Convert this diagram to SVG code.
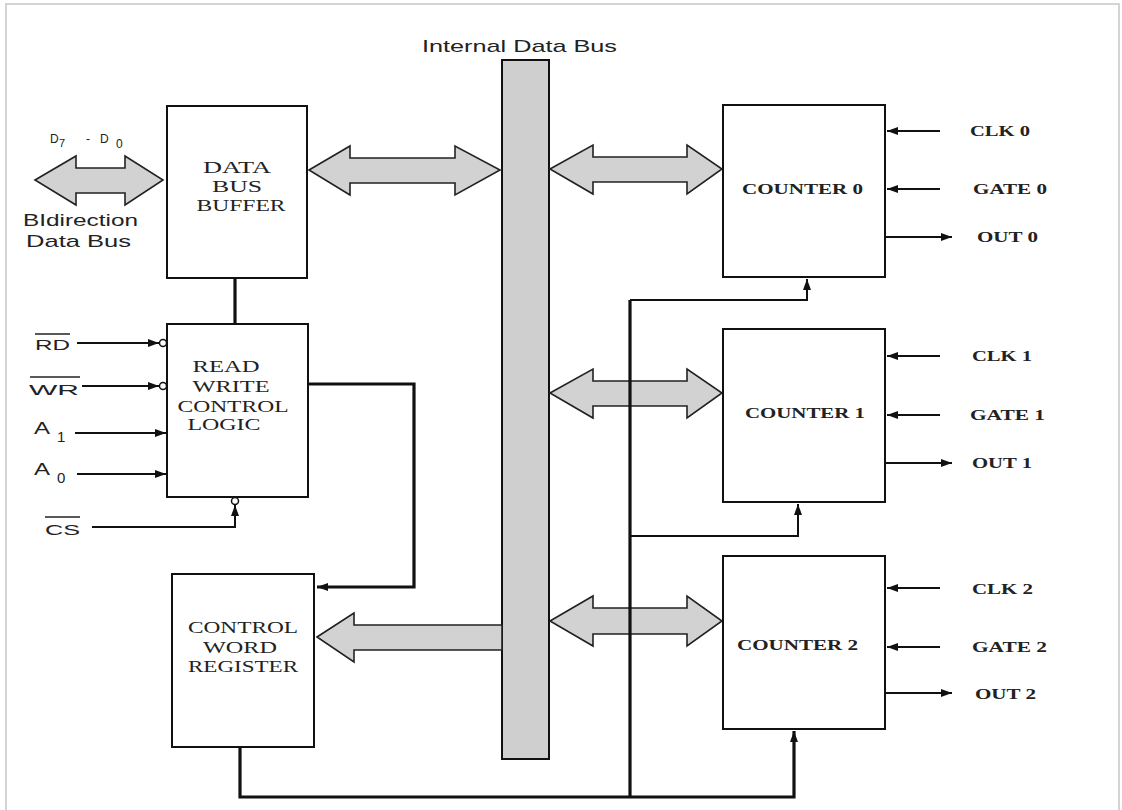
<svg xmlns="http://www.w3.org/2000/svg" width="1122" height="810" viewBox="0 0 1122 810">
  <style>
    .box { fill: #ffffff; stroke: #111111; stroke-width: 2; }
    .bus { fill: #cfcfcf; stroke: #111111; stroke-width: 2; }
    .big { fill: #d2d2d2; stroke: #222222; stroke-width: 1.6; stroke-linejoin: miter; }
    .wire { fill: none; stroke: #111111; stroke-width: 2; }
    .thick { fill: none; stroke: #111111; stroke-width: 3.2; }
    .bubble { fill: #ffffff; stroke: #111111; stroke-width: 1.5; }
    .serif { font-family: "Liberation Serif", "Times New Roman", serif; font-size: 16px; fill: #222222; text-anchor: middle; }
    .serifb { font-family: "Liberation Serif", "Times New Roman", serif; font-size: 15px; font-weight: bold; fill: #222222; }
    .sans { font-family: "Liberation Sans", Arial, sans-serif; fill: #222222; }
  </style>
  <defs>
    <marker id="tip" viewBox="0 0 11 8" refX="11" refY="4" markerWidth="11" markerHeight="8" markerUnits="userSpaceOnUse" orient="auto">
      <path d="M0,0 L11,4 L0,8 Z" fill="#111111"/>
    </marker>
  </defs>

  <!-- page frame -->
  <rect x="6" y="4" width="1113" height="830" fill="none" stroke="#d4d4d4" stroke-width="2"/>

  <!-- internal data bus -->
  <g id="internal-bus">
    <text class="sans" x="422" y="52" font-size="17" textLength="195" lengthAdjust="spacingAndGlyphs">Internal Data Bus</text>
    <rect class="bus" x="502" y="60" width="47" height="699"/>
  </g>

  <!-- wide bus arrows -->
  <g id="bus-arrows">
    <polygon class="big" points="35,180 76,156 76,168 125,168 125,156 163,180 125,205 125,193 76,193 76,205"/>
    <polygon class="big" points="309,170 350,146 350,158 455,158 455,146 500,170 455,195 455,183 350,183 350,195"/>
    <polygon class="big" points="550,169 593,145 593,157 687,157 687,145 722,169 687,194 687,182 593,182 593,194"/>
    <polygon class="big" points="550,393 593,369 593,381 687,381 687,369 722,393 687,418 687,406 593,406 593,418"/>
    <polygon class="big" points="550,621 593,596 593,608 687,608 687,596 722,621 687,646 687,634 593,634 593,646"/>
    <polygon class="big" points="317,637 354,613 354,625 502,625 502,650 354,650 354,662"/>
  </g>

  <!-- left side bus label -->
  <g id="bidir-label">
    <text class="sans" x="50" y="143" font-size="12">D</text>
    <text class="sans" x="59" y="147" font-size="11">7</text>
    <text class="sans" x="86" y="143" font-size="12">-</text>
    <text class="sans" x="100" y="143" font-size="12">D</text>
    <text class="sans" x="116" y="148" font-size="12">0</text>
    <text class="sans" x="23" y="226" font-size="17" textLength="115" lengthAdjust="spacingAndGlyphs">BIdirection</text>
    <text class="sans" x="26" y="247" font-size="17" textLength="105" lengthAdjust="spacingAndGlyphs">Data Bus</text>
  </g>

  <!-- data bus buffer -->
  <g id="data-bus-buffer">
    <rect class="box" x="167" y="106" width="140" height="172"/>
    <text class="serif" x="237" y="173" textLength="68" lengthAdjust="spacingAndGlyphs">DATA</text>
    <text class="serif" x="237" y="192" textLength="50" lengthAdjust="spacingAndGlyphs">BUS</text>
    <text class="serif" x="241" y="211" textLength="89" lengthAdjust="spacingAndGlyphs">BUFFER</text>
  </g>

  <!-- read/write control logic -->
  <g id="rw-logic">
    <rect class="box" x="167" y="324" width="141" height="173"/>
    <text class="serif" x="226" y="372" textLength="67" lengthAdjust="spacingAndGlyphs">READ</text>
    <text class="serif" x="231" y="392" textLength="77" lengthAdjust="spacingAndGlyphs">WRITE</text>
    <text class="serif" x="233" y="412" textLength="111" lengthAdjust="spacingAndGlyphs">CONTROL</text>
    <text class="serif" x="224" y="430" textLength="73" lengthAdjust="spacingAndGlyphs">LOGIC</text>
  </g>

  <!-- control word register -->
  <g id="control-word-register">
    <rect class="box" x="172" y="574" width="142" height="173"/>
    <text class="serif" x="243" y="633" textLength="110" lengthAdjust="spacingAndGlyphs">CONTROL</text>
    <text class="serif" x="240" y="653" textLength="74" lengthAdjust="spacingAndGlyphs">WORD</text>
    <text class="serif" x="243" y="672" textLength="110" lengthAdjust="spacingAndGlyphs">REGISTER</text>
  </g>

  <!-- counters -->
  <g id="counter-0">
    <rect class="box" x="723" y="105" width="162" height="172"/>
    <text class="serifb" x="742" y="194" textLength="121" lengthAdjust="spacingAndGlyphs">COUNTER 0</text>
  </g>
  <g id="counter-1">
    <rect class="box" x="723" y="329" width="162" height="173"/>
    <text class="serifb" x="745" y="418" textLength="120" lengthAdjust="spacingAndGlyphs">COUNTER 1</text>
  </g>
  <g id="counter-2">
    <rect class="box" x="723" y="556" width="162" height="173"/>
    <text class="serifb" x="737" y="650" textLength="121" lengthAdjust="spacingAndGlyphs">COUNTER 2</text>
  </g>

  <!-- pin labels -->
  <g id="pin-labels">
    <text class="sans" x="35" y="350" font-size="15" textLength="35" lengthAdjust="spacingAndGlyphs">RD</text>
    <line x1="35" y1="334" x2="70" y2="334" stroke="#222" stroke-width="1.5"/>
    <text class="sans" x="29" y="395" font-size="15" textLength="50" lengthAdjust="spacingAndGlyphs">WR</text>
    <line x1="30" y1="377" x2="80" y2="377" stroke="#222" stroke-width="1.5"/>
    <text class="sans" x="34" y="434" font-size="16" textLength="16" lengthAdjust="spacingAndGlyphs">A</text>
    <text class="sans" x="57" y="442" font-size="15">1</text>
    <text class="sans" x="34" y="475" font-size="16" textLength="16" lengthAdjust="spacingAndGlyphs">A</text>
    <text class="sans" x="57" y="483" font-size="15">0</text>
    <text class="sans" x="45" y="535" font-size="15" textLength="35" lengthAdjust="spacingAndGlyphs">CS</text>
    <line x1="45" y1="517" x2="80" y2="517" stroke="#222" stroke-width="1.5"/>

    <text class="serifb" x="970" y="136" textLength="60" lengthAdjust="spacingAndGlyphs">CLK 0</text>
    <text class="serifb" x="973" y="194" textLength="74" lengthAdjust="spacingAndGlyphs">GATE 0</text>
    <text class="serifb" x="977" y="242" textLength="61" lengthAdjust="spacingAndGlyphs">OUT 0</text>
    <text class="serifb" x="972" y="361" textLength="60" lengthAdjust="spacingAndGlyphs">CLK 1</text>
    <text class="serifb" x="970" y="420" textLength="75" lengthAdjust="spacingAndGlyphs">GATE 1</text>
    <text class="serifb" x="972" y="468" textLength="60" lengthAdjust="spacingAndGlyphs">OUT 1</text>
    <text class="serifb" x="972" y="594" textLength="61" lengthAdjust="spacingAndGlyphs">CLK 2</text>
    <text class="serifb" x="972" y="652" textLength="75" lengthAdjust="spacingAndGlyphs">GATE 2</text>
    <text class="serifb" x="975" y="699" textLength="61" lengthAdjust="spacingAndGlyphs">OUT 2</text>
  </g>

  <!-- connectors -->
  <g id="connectors">
    <!-- buffer to read/write logic -->
    <line class="thick" x1="235" y1="278" x2="235" y2="324"/>
    <!-- control inputs -->
    <line class="wire" x1="77" y1="343" x2="159" y2="343" marker-end="url(#tip)"/>
    <circle class="bubble" cx="163" cy="343" r="3.5"/>
    <line class="wire" x1="82" y1="386" x2="159" y2="386" marker-end="url(#tip)"/>
    <circle class="bubble" cx="163" cy="386" r="3.5"/>
    <line class="wire" x1="75" y1="433" x2="166" y2="433" marker-end="url(#tip)"/>
    <line class="wire" x1="77" y1="474" x2="166" y2="474" marker-end="url(#tip)"/>
    <polyline class="wire" points="92,527 235,527 235,505" marker-end="url(#tip)"/>
    <circle class="bubble" cx="235" cy="501" r="3.5"/>
    <!-- read/write logic to control word register -->
    <polyline class="thick" points="308,384 414,384 414,587 317,587" marker-end="url(#tip)"/>
    <!-- control word register to counters -->
    <polyline class="thick" points="240,747 240,797 794,797 794,731" marker-end="url(#tip)"/>
    <line class="thick" x1="630" y1="300" x2="630" y2="797"/>
    <polyline class="wire" points="630,300 807,300 807,279" marker-end="url(#tip)"/>
    <polyline class="wire" points="630,536 798,536 798,504" marker-end="url(#tip)"/>
    <!-- counter pins -->
    <line class="wire" x1="940" y1="131" x2="887" y2="131" marker-end="url(#tip)"/>
    <line class="wire" x1="940" y1="189" x2="887" y2="189" marker-end="url(#tip)"/>
    <line class="wire" x1="885" y1="237" x2="952" y2="237" marker-end="url(#tip)"/>
    <line class="wire" x1="940" y1="356" x2="887" y2="356" marker-end="url(#tip)"/>
    <line class="wire" x1="940" y1="415" x2="887" y2="415" marker-end="url(#tip)"/>
    <line class="wire" x1="885" y1="463" x2="952" y2="463" marker-end="url(#tip)"/>
    <line class="wire" x1="940" y1="588" x2="887" y2="588" marker-end="url(#tip)"/>
    <line class="wire" x1="940" y1="647" x2="887" y2="647" marker-end="url(#tip)"/>
    <line class="wire" x1="885" y1="693" x2="952" y2="693" marker-end="url(#tip)"/>
  </g>
</svg>
